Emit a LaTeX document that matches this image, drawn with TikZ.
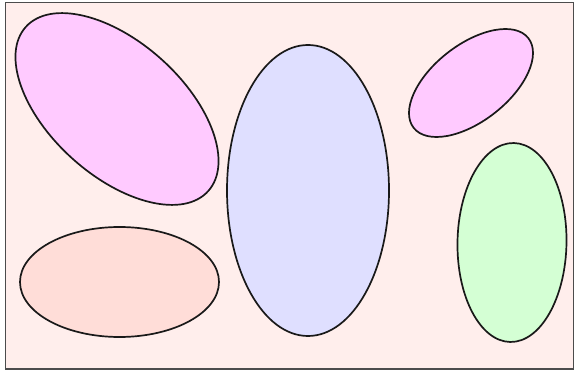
\documentclass[tikz,border=0pt]{standalone}
\begin{document}
\begin{tikzpicture}[x=1pt,y=-1pt,
  blob/.style={draw=black!90, line width=1.7pt},
  frame/.style={draw=black!70, line width=1.1pt, fill=bgpink}]
\definecolor{bgpink}{RGB}{255,238,236}
\definecolor{pinkA}{RGB}{255,202,255}
\definecolor{blueA}{RGB}{223,223,255}
\definecolor{salmonA}{RGB}{255,221,216}
\definecolor{greenA}{RGB}{212,255,212}
\useasboundingbox (0,0) rectangle (574,374);
\draw[frame] (5.5,2.5) rectangle (573.5,369);
\draw[blob, fill=pinkA] (117,109) ellipse [x radius=122.7pt, y radius=66.7pt, rotate=-42];
\draw[blob, fill=salmonA] (119.5,282) ellipse [x radius=99.5pt, y radius=55pt];
\draw[blob, fill=blueA] (308,190.5) ellipse [x radius=81pt, y radius=145.5pt];
\draw[blob, fill=pinkA] (471,83) ellipse [x radius=72.8pt, y radius=38.2pt, rotate=38];
\draw[blob, fill=greenA] (512,242.5) ellipse [x radius=54.5pt, y radius=99.5pt, rotate=-1];
\end{tikzpicture}
\end{document}
